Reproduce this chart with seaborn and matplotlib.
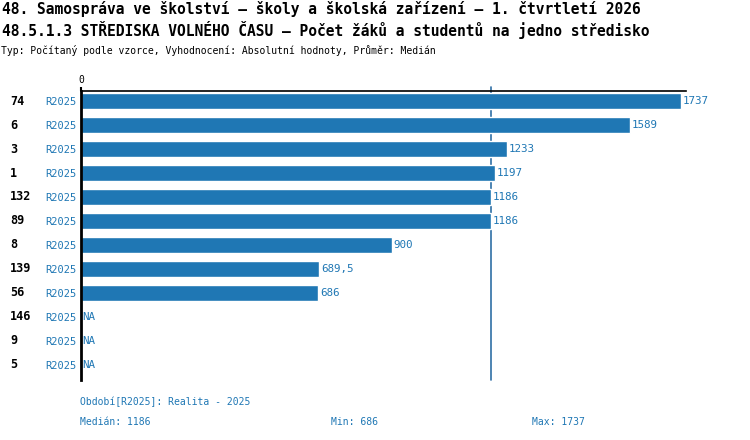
import numpy as np
import pandas as pd
import matplotlib
matplotlib.use("Agg")
import matplotlib.pyplot as plt
import matplotlib.transforms as mtransforms
import seaborn as sns

# -----------------------------
# Data
# -----------------------------
row_ids = ["74", "6", "3", "1", "132", "89", "8", "139", "56", "146", "9", "5"]
period = "R2025"
values = [1737, 1589, 1233, 1197, 1186, 1186, 900, 689.5, 686, np.nan, np.nan, np.nan]
median_val = 1186
min_val = 686
max_val = 1737

title1 = "48. Samospráva ve školství – školy a školská zařízení – 1. čtvrtletí 2026"
title2 = "48.5.1.3 STŘEDISKA VOLNÉHO ČASU – Počet žáků a studentů na jedno středisko"
subtitle = "Typ: Počítaný podle vzorce, Vyhodnocení: Absolutní hodnoty, Průměr: Medián"

BLUE = "#1f77b4"
LINE_BLUE = "#2f6fa6"

sns.set_style("white")
plt.rcParams["font.family"] = ["DejaVu Sans Mono", "DejaVu Sans"]
plt.rcParams["text.color"] = "black"

df = pd.DataFrame({"row": row_ids, "value": values})

fig = plt.figure(figsize=(7.5, 4.4), dpi=100)
ax = fig.add_axes([0.108, 0.1364, 0.8067, 0.6568])

sns.barplot(data=df, x="value", y="row", order=row_ids, orient="h",
            color=BLUE, saturation=1, width=0.7, ax=ax)

ax.set_xlim(0, 1751)
ax.set_ylim(11.63, -0.42)

# spines
for s in ["right", "bottom"]:
    ax.spines[s].set_visible(False)
ax.spines["top"].set_color("black")
ax.spines["top"].set_linewidth(1.2)
ax.spines["left"].set_color("black")
ax.spines["left"].set_linewidth(2)

# x axis: only the 0 at top
ax.xaxis.tick_top()
ax.set_xticks([0])
ax.set_xticklabels(["0"], fontsize=7, color="black")
ax.tick_params(axis="x", length=3, width=1.5, pad=1, color="black")
ax.set_xlabel("")
ax.set_ylabel("")

# y labels: period code in blue
ax.set_yticks(range(len(row_ids)))
ax.set_yticklabels([period] * len(row_ids), fontsize=7.5, color=BLUE)
ax.tick_params(axis="y", length=0, pad=3)

# bold row ids at far left
trans = mtransforms.blended_transform_factory(fig.transFigure, ax.transData)
for i, rid in enumerate(row_ids):
    ax.text(10 / 750, i, rid, transform=trans, ha="left", va="center",
            fontsize=8.5, fontweight="bold", color="black")

# value labels
for i, v in enumerate(values):
    if np.isnan(v):
        txt, xpos = "NA", 5
    else:
        txt = f"{v:g}".replace(".", ",")
        xpos = v + 5
    ax.text(xpos, i, txt, ha="left", va="center", fontsize=7.8, color=BLUE)

# median line
ax.axvline(median_val, ymin=0, ymax=1.014, color=LINE_BLUE, lw=1.2, clip_on=False, zorder=0.5)

# titles
fig.text(2 / 750, 1 - 9 / 440, title1, ha="left", va="center", fontsize=10.5, fontweight="bold")
fig.text(2 / 750, 1 - 30 / 440, title2, ha="left", va="center", fontsize=10.5, fontweight="bold")
fig.text(1 / 750, 1 - 50 / 440, subtitle, ha="left", va="center", fontsize=7)

# footer
fig.text(80 / 750, 1 - 402 / 440, f"Období[{period}]: Realita - 2025", ha="left", va="center",
         fontsize=7, color=BLUE)
fig.text(80 / 750, 1 - 422 / 440, f"Medián: {median_val}", ha="left", va="center",
         fontsize=7, color=BLUE)
fig.text(331 / 750, 1 - 422 / 440, f"Min: {min_val}", ha="left", va="center",
         fontsize=7, color=BLUE)
fig.text(532 / 750, 1 - 422 / 440, f"Max: {max_val}", ha="left", va="center",
         fontsize=7, color=BLUE)

fig.savefig("out.png", dpi=100)
